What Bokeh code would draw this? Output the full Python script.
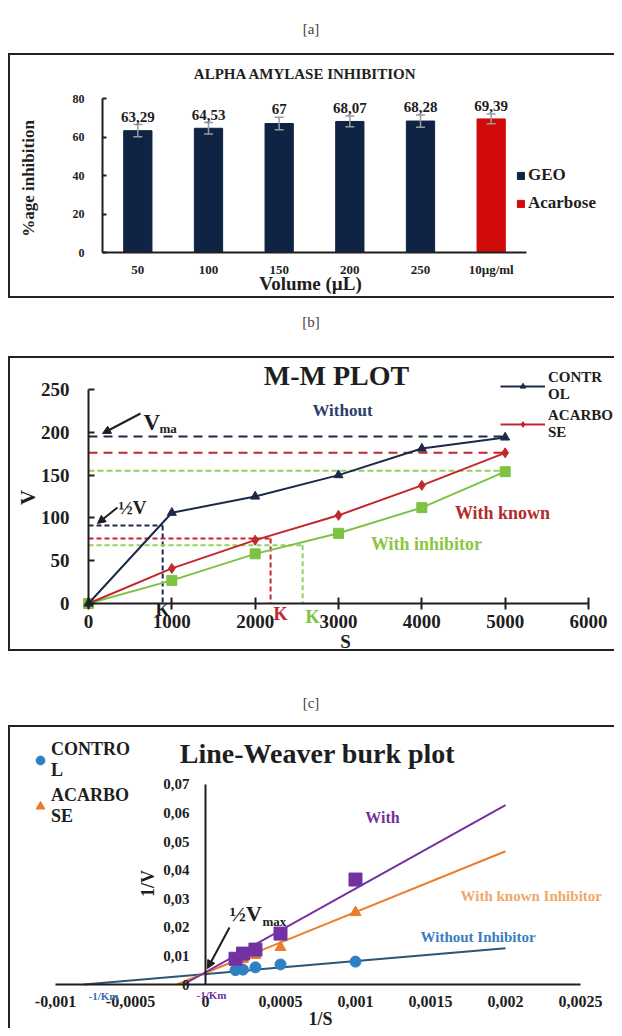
import math
from bokeh.plotting import figure
from bokeh.models import (Range1d, FixedTicker, ColumnDataSource, Whisker, TeeHead,
                          LabelSet, Label, Legend, LegendItem, Arrow, NormalHead, Div)
from bokeh.layouts import column
from bokeh.embed import file_html
from bokeh.resources import INLINE
from bokeh.core.properties import value

FONT = "Liberation Serif"
INK = "#1e1e1e"

# ---------------- data : [a] alpha amylase inhibition ----------------
amy_categories = ["50", "100", "150", "200", "250", "10µg/ml"]
amy_values = [63.29, 64.53, 67.0, 68.07, 68.28, 69.39]
amy_errors = [3.2, 3.0, 3.2, 2.8, 3.2, 2.5]
amy_groups = ["GEO", "GEO", "GEO", "GEO", "GEO", "Acarbose"]
amy_yticks = [0, 20, 40, 60, 80]

# ---------------- data : [b] M-M plot ----------------
mm_S = [0, 1000, 2000, 3000, 4000, 5000]
mm_control = [0, 106, 125, 150, 181, 194]
mm_acarbose = [0, 41, 74, 103, 138, 176]
mm_inhibitor = [0, 27, 58, 82, 112, 154]
mm_vmax = [195, 176, 155]          # control, acarbose, inhibitor
mm_half_vmax = [91, 76, 68]
mm_km = [890, 2185, 2570]
mm_xticks = [0, 1000, 2000, 3000, 4000, 5000, 6000]
mm_yticks = [0, 50, 100, 150, 200, 250]

# ---------------- data : [c] Lineweaver-Burk plot ----------------
lb_inv_S = [0.0002, 0.00025, 0.000333, 0.0005, 0.001]
lb_control = [0.005, 0.0052, 0.006, 0.007, 0.008]
lb_acarbose = [0.0078, 0.0088, 0.0102, 0.013, 0.0252]
lb_inhibitor = [0.009, 0.0108, 0.0122, 0.0178, 0.0367]
lb_fit_x_control = [-0.00081, 0.002]
lb_fit_y_control = [0.0, 0.0127]
lb_fit_x_acarbose = [-0.00019, 0.002]
lb_fit_y_acarbose = [0.0, 0.0466]
lb_fit_x_inhibitor = [-0.000147, 0.002]
lb_fit_y_inhibitor = [0.0, 0.0627]
lb_xticks = [-0.001, -0.0005, 0, 0.0005, 0.001, 0.0015, 0.002, 0.0025]
lb_xlabels = ["-0,001", "-0,0005", "0", "0,0005", "0,001", "0,0015", "0,002", "0,0025"]
lb_yticks = [0, 0.01, 0.02, 0.03, 0.04, 0.05, 0.06, 0.07]
lb_ylabels = ["0", "0,01", "0,02", "0,03", "0,04", "0,05", "0,06", "0,07"]

# ---------------- colours ----------------
NAVY = "#0f2444"
RED_BAR = "#d10a0a"
MM_BLACK = "#1c2a48"
MM_RED = "#c4262e"
MM_GREEN = "#7cc243"
LB_BLUE = "#2f80c3"
LB_BLUE_LINE = "#2a5677"
LB_ORANGE = "#ea7d2c"
LB_PURPLE = "#7232a2"

W = 606
X0 = 8  # left edge of every figure in the page


class Mapper:
    """Linear map between page pixels and data values for one figure."""

    def __init__(self, top, height, xa, xva, xb, xvb, ya, yva, yb, yvb):
        self.top, self.height = top, height
        self.kx = (xvb - xva) / (xb - xa)
        self.xa, self.xva = xa, xva
        self.ky = (yvb - yva) / (yb - ya)
        self.ya, self.yva = ya, yva

    def x(self, px):
        return self.xva + (px - self.xa) * self.kx

    def y(self, py):
        return self.yva + (py - self.ya) * self.ky

    def x_range(self):
        return Range1d(self.x(X0), self.x(X0 + W))

    def y_range(self):
        return Range1d(self.y(self.top + self.height), self.y(self.top))

    def legend_loc(self, left_px, bottom_px):
        return (left_px - X0, self.top + self.height - bottom_px)


def base_fig(m, shadow):
    p = figure(width=W, height=m.height, x_range=m.x_range(), y_range=m.y_range(),
               output_backend="svg", toolbar_location=None,
               min_border_left=0, min_border_right=0, min_border_top=0, min_border_bottom=0)
    p.background_fill_color = None
    p.border_fill_color = None
    p.outline_line_color = None
    p.xgrid.visible = False
    p.ygrid.visible = False
    p.styles = {"box-shadow": shadow}
    return p


def style_axis(ax, size, tick_in=0, tick_out=0, standoff=6):
    ax.axis_line_color = INK
    ax.axis_line_width = 2
    ax.major_tick_line_color = INK
    ax.major_tick_line_width = 2
    ax.major_tick_in = tick_in
    ax.major_tick_out = tick_out
    ax.minor_tick_line_color = None
    ax.major_label_text_font = FONT
    ax.major_label_text_font_style = "bold"
    ax.major_label_text_font_size = size
    ax.major_label_text_color = INK
    ax.major_label_standoff = standoff


def make_label(**kw):
    try:
        return Label(text_font=value(FONT), **kw)
    except Exception:
        return Label(text_font=FONT, **kw)


def make_legend(**kw):
    try:
        return Legend(label_text_font=value(FONT), **kw)
    except Exception:
        return Legend(label_text_font=FONT, **kw)


def add_label(p, x, y, text, size, color=INK, align="center", baseline="middle", angle=0.0):
    p.add_layout(make_label(x=x, y=y, text=text, text_font_style="bold",
                            text_font_size=size, text_color=color, text_align=align,
                            text_baseline=baseline, angle=angle))


def caption(txt, h, pad):
    return Div(text=f'<div style="width:{W}px;text-align:center;padding-top:{pad}px;'
                    f'font-family:\'{FONT}\';font-size:15px;line-height:18px;color:#444;">{txt}</div>',
               width=W, height=h, margin=(0, 0, 0, 0))


SH3 = "inset 2px 2px 0 #222, inset 0 -2px 0 #222"
LEG_COMMON = dict(padding=0, margin=0, label_text_font_style="bold", label_text_color=INK,
                  border_line_color=None, background_fill_alpha=0)

# =================== [a] ===================
ma = Mapper(53, 245, 102, 0.0, 526, 6.0, 252, 0.0, 98, 80.0)
pa = base_fig(ma, SH3)

xs = [i + 0.5 for i in range(len(amy_categories))]
txt = [f"{v:g}".replace(".", ",") for v in amy_values]
src_all = ColumnDataSource(dict(x=xs, top=amy_values,
                                upper=[v + e for v, e in zip(amy_values, amy_errors)],
                                lower=[v - e for v, e in zip(amy_values, amy_errors)],
                                ly=[v + e + 1.5 for v, e in zip(amy_values, amy_errors)],
                                txt=txt))
renders = {}
for grp, col in (("GEO", NAVY), ("Acarbose", RED_BAR)):
    idx = [i for i, g in enumerate(amy_groups) if g == grp]
    s = ColumnDataSource(dict(x=[xs[i] for i in idx], top=[amy_values[i] for i in idx]))
    renders[grp] = pa.vbar(x="x", top="top", width=0.4, source=s, fill_color=col,
                           line_color=col)

pa.add_layout(Whisker(source=src_all, base="x", upper="upper", lower="lower",
                      line_color="#9a9a9a", line_width=1.5, level="annotation",
                      upper_head=TeeHead(size=9, line_color="#9a9a9a", line_width=1.5),
                      lower_head=TeeHead(size=9, line_color="#9a9a9a", line_width=1.5)))
pa.add_layout(LabelSet(x="x", y="ly", text="txt", source=src_all, text_align="center",
                       text_baseline="bottom", text_font=value(FONT), text_font_size="15px",
                       text_font_style="bold", text_color=INK))

style_axis(pa.yaxis[0], "12px", tick_in=4, tick_out=0, standoff=18)
pa.yaxis.ticker = FixedTicker(ticks=amy_yticks)
pa.yaxis.fixed_location = 0
pa.yaxis.bounds = (0, 80)
style_axis(pa.xaxis[0], "13px", tick_in=0, tick_out=0, standoff=9)
pa.xaxis.ticker = FixedTicker(ticks=xs)
pa.xaxis.major_label_overrides = {x: c for x, c in zip(xs, amy_categories)}
pa.xaxis.fixed_location = 0
pa.xaxis.bounds = (0, len(amy_categories))

add_label(pa, ma.x(305), ma.y(73), "ALPHA AMYLASE INHIBITION", "15px")
add_label(pa, ma.x(310), ma.y(283), "Volume (µL)", "19px")
add_label(pa, ma.x(28), ma.y(178), "%age inhibition", "17px", angle=math.pi / 2)

leg_a = make_legend(items=[LegendItem(label="GEO", renderers=[renders["GEO"]]),
                           LegendItem(label="Acarbose", renderers=[renders["Acarbose"]])],
                    location=ma.legend_loc(516, 213), glyph_width=9, glyph_height=9,
                    label_standoff=3, spacing=8, label_text_font_size="17px", **LEG_COMMON)
pa.add_layout(leg_a)

# =================== [b] ===================
mb = Mapper(356, 295, 88, 0.0, 588, 6000.0, 603, 0.0, 389, 250.0)
pb = base_fig(mb, SH3)
bx, by = mb.x, mb.y

dash_cols = [MM_BLACK, MM_RED, "#93cf62"]
dash_pat = ["9 6", "9 6", "6 3"]
for vm, hv, km, c, dp in zip(mm_vmax, mm_half_vmax, mm_km, dash_cols, dash_pat):
    pb.line([mm_S[0], mm_S[-1]], [vm, vm], line_color=c, line_width=2, line_dash=dp)
    pb.line([mm_S[0], km], [hv, hv], line_color=c, line_width=2, line_dash="5 3")
    pb.line([km, km], [hv, 0], line_color=c, line_width=2, line_dash="5 3")

l_in = pb.line(mm_S, mm_inhibitor, line_color=MM_GREEN, line_width=2)
s_in = pb.scatter(mm_S, mm_inhibitor, marker="square", size=10, fill_color=MM_GREEN,
                  line_color=MM_GREEN)
l_ac = pb.line(mm_S, mm_acarbose, line_color=MM_RED, line_width=2)
s_ac = pb.scatter(mm_S, mm_acarbose, marker="diamond", size=10, fill_color=MM_RED,
                  line_color=MM_RED)
l_co = pb.line(mm_S, mm_control, line_color=MM_BLACK, line_width=2)
s_co = pb.scatter(mm_S, mm_control, marker="triangle", size=9, fill_color=MM_BLACK,
                  line_color=MM_BLACK)

style_axis(pb.yaxis[0], "19px", tick_in=6, tick_out=0, standoff=19)
pb.yaxis.ticker = FixedTicker(ticks=mm_yticks)
pb.yaxis.fixed_location = 0
pb.yaxis.bounds = (mm_yticks[0], mm_yticks[-1])
style_axis(pb.xaxis[0], "19px", tick_in=6, tick_out=6, standoff=5)
pb.xaxis.ticker = FixedTicker(ticks=mm_xticks)
pb.xaxis.fixed_location = 0
pb.xaxis.bounds = (mm_xticks[0], mm_xticks[-1])

add_label(pb, bx(336), by(375), "M-M PLOT", "28px")
add_label(pb, bx(27), by(497), "V", "21px", angle=math.pi / 2)
add_label(pb, bx(345), by(641), "S", "19px")
add_label(pb, bx(342), by(410), "Without", "17px", color="#2c3e6b")
add_label(pb, bx(502), by(512), "With known", "18px", color="#b52b2b")
add_label(pb, bx(426), by(543), "With inhibitor", "18px", color="#8dc63f")
add_label(pb, bx(143), by(422), "V", "23px", align="left")
add_label(pb, bx(159), by(428), "ma", "13px", align="left")
add_label(pb, bx(118), by(507), "½V", "19px", align="left")
add_label(pb, bx(162), by(609), "K", "18px", color=INK)
add_label(pb, bx(280), by(613), "K", "18px", color=MM_RED)
add_label(pb, bx(312), by(616), "K", "18px", color=MM_GREEN)
pb.add_layout(Arrow(end=NormalHead(size=8, fill_color=INK, line_color=INK),
                    x_start=bx(140), y_start=by(413), x_end=bx(102), y_end=by(433),
                    line_color=INK, line_width=2))
pb.add_layout(Arrow(end=NormalHead(size=8, fill_color=INK, line_color=INK),
                    x_start=bx(117), y_start=by(507), x_end=bx(97), y_end=by(523),
                    line_color=INK, line_width=2))

leg_b = make_legend(items=[LegendItem(label="CONTR\nOL", renderers=[l_co, s_co]),
                           LegendItem(label="ACARBO\nSE", renderers=[l_ac, s_ac])],
                    location=mb.legend_loc(500, 441), glyph_width=45, glyph_height=14,
                    label_standoff=3, spacing=4, label_text_font_size="15px", **LEG_COMMON)
pb.add_layout(leg_b)

# =================== [c] ===================
mc = Mapper(725, 303, 205, 0.0, 280, 0.0005, 984, 0.0, 955.4, 0.01)
pc = base_fig(mc, "inset 2px 2px 0 #222")
cx, cy = mc.x, mc.y

pc.line(lb_fit_x_control, lb_fit_y_control, line_color=LB_BLUE_LINE, line_width=2)
pc.line(lb_fit_x_acarbose, lb_fit_y_acarbose, line_color=LB_ORANGE, line_width=2)
pc.line(lb_fit_x_inhibitor, lb_fit_y_inhibitor, line_color=LB_PURPLE, line_width=2)
r_cc = pc.scatter(lb_inv_S, lb_control, marker="circle", size=11, fill_color=LB_BLUE,
                  line_color=LB_BLUE)
r_ca = pc.scatter(lb_inv_S, lb_acarbose, marker="triangle", size=11, fill_color=LB_ORANGE,
                  line_color=LB_ORANGE)
r_ci = pc.scatter(lb_inv_S, lb_inhibitor, marker="square", size=13, fill_color=LB_PURPLE,
                  line_color=LB_PURPLE)

style_axis(pc.xaxis[0], "16px", tick_in=0, tick_out=0, standoff=11)
pc.xaxis.ticker = FixedTicker(ticks=lb_xticks)
pc.xaxis.major_label_overrides = {t: s for t, s in zip(lb_xticks, lb_xlabels)}
pc.xaxis.fixed_location = 0
pc.xaxis.bounds = (lb_xticks[0], lb_xticks[-1])
style_axis(pc.yaxis[0], "15px", tick_in=0, tick_out=0, standoff=16)
pc.yaxis.ticker = FixedTicker(ticks=lb_yticks)
pc.yaxis.major_label_overrides = {t: s for t, s in zip(lb_yticks, lb_ylabels)}
pc.yaxis.fixed_location = 0
pc.yaxis.bounds = (lb_yticks[0], lb_yticks[-1])

add_label(pc, cx(317), cy(753), "Line-Weaver burk plot", "28px")
add_label(pc, cx(147), cy(883), "1/V", "18px", angle=math.pi / 2)
add_label(pc, cx(320), cy(1018), "1/S", "18px")
add_label(pc, cx(382), cy(817), "With", "16px", color=LB_PURPLE)
add_label(pc, cx(460), cy(895), "With known Inhibitor", "15px", color="#f0a868", align="left")
add_label(pc, cx(420), cy(936), "Without Inhibitor", "15px", color="#3a7dbf", align="left")
add_label(pc, cx(229), cy(913), "½V", "22px", align="left")
add_label(pc, cx(262), cy(921), "max", "13px", align="left")
add_label(pc, cx(103), cy(995), "-1/Km", "11px", color="#3a6fb0")
add_label(pc, cx(211), cy(994), "-1/Km", "11px", color=LB_PURPLE)
pc.add_layout(Arrow(end=NormalHead(size=8, fill_color=INK, line_color=INK),
                    x_start=cx(229), y_start=cy(927), x_end=cx(207), y_end=cy(968),
                    line_color=INK, line_width=2))

leg_c = make_legend(items=[LegendItem(label="CONTRO\nL", renderers=[r_cc]),
                           LegendItem(label="ACARBO\nSE", renderers=[r_ca])],
                    location=mc.legend_loc(29, 827), glyph_width=22, glyph_height=24,
                    label_standoff=0, spacing=4, label_text_font_size="18px", **LEG_COMMON)
pc.add_layout(leg_c)

layout = column(caption("[a]", 45, 12), pa, caption("[b]", 58, 15), pb,
                caption("[c]", 74, 43), pc, spacing=0, margin=(8, 0, 0, 8))

open("out.html", "w").write(file_html(layout, INLINE))
